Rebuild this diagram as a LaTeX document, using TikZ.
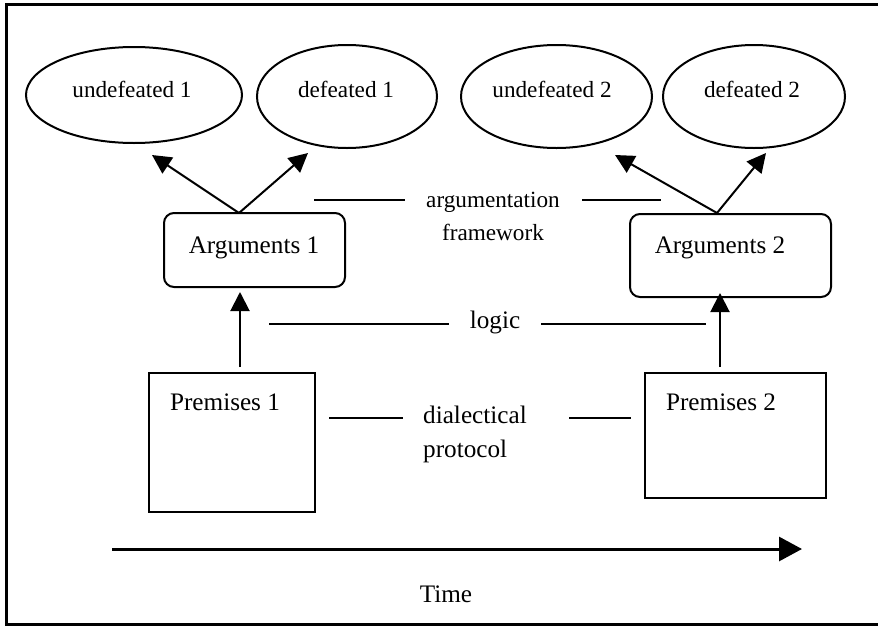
\documentclass[tikz,border=0pt]{standalone}
\usepackage{fontspec}
\setmainfont{Liberation Serif}
\usetikzlibrary{arrows.meta,shapes.geometric}
\begin{document}
\begin{tikzpicture}[x=1pt,y=-1pt,
  ell/.style={draw,ellipse,line width=2pt,inner sep=0pt},
  lbl/.style={inner sep=0pt,font=\fontsize{23.2}{33}\selectfont},
  big/.style={inner sep=0pt,font=\fontsize{25.2}{34}\selectfont},
  argbox/.style={draw,rounded corners=10pt,line width=2pt,inner sep=0pt},
  prembox/.style={draw,line width=2pt,inner sep=0pt},
  conn/.style={line width=2pt,-{Triangle[length=19pt,width=19pt]}},
  rel/.style={line width=1.6pt},
  frame/.style={line width=3pt}
]
\useasboundingbox (0,0) rectangle (878,627);
% frame (right side cut off)
\coordinate (ftr) at (880,4.5);
\coordinate (ftl) at (6,4.5);
\coordinate (fbl) at (6,624.5);
\coordinate (fbr) at (880,624.5);
\draw[frame] (ftr) -- (ftl) -- (fbl) -- (fbr);

% ellipses
\node[ell,minimum width=216,minimum height=96] (u1) at (134,95) {};
\node[ell,minimum width=180,minimum height=103] (d1) at (347,96.5) {};
\node[ell,minimum width=191,minimum height=103] (u2) at (556.5,96.5) {};
\node[ell,minimum width=182,minimum height=103] (d2) at (754,96.5) {};
\node[lbl] (u1t) at (132,89) {undefeated 1};
\node[lbl] (d1t) at (346,89) {defeated 1};
\node[lbl] (u2t) at (552,89) {undefeated 2};
\node[lbl] (d2t) at (752,89) {defeated 2};

% argument boxes
\node[argbox,minimum width=181,minimum height=74] (a1) at (254.5,250) {};
\node[argbox,minimum width=201,minimum height=83] (a2) at (730.5,255.5) {};
\node[big] (a1t) at (254,248) {Arguments 1};
\node[big] (a2t) at (720,248) {Arguments 2};

% premises boxes
\node[prembox,minimum width=166,minimum height=139] (p1) at (232,442.5) {};
\node[prembox,minimum width=181,minimum height=125] (p2) at (735.5,435.5) {};
\node[big] (p1t) at (225,402) {Premises 1};
\node[big] (p2t) at (721,402) {Premises 2};

% arrows from arguments to extensions
\coordinate (a1s) at (239,213);
\coordinate (a2s) at (717,213);
\coordinate (u1e) at (152,155);
\coordinate (d1e) at (308,153);
\coordinate (u2e) at (615,155);
\coordinate (d2e) at (766,153);
\draw[conn] (a1s) -- (u1e);
\draw[conn] (a1s) -- (d1e);
\draw[conn] (a2s) -- (u2e);
\draw[conn] (a2s) -- (d2e);

% logic arrows
\coordinate (p1s) at (240,367);
\coordinate (a1e) at (240,292);
\coordinate (p2s) at (720,367);
\coordinate (a2e) at (720,293);
\draw[conn] (p1s) -- (a1e);
\draw[conn] (p2s) -- (a2e);

% relation labels and lines
\node[lbl,align=center] (af) at (493,216) {argumentation\\framework};
\coordinate (afl1) at (314,200); \coordinate (afl2) at (405,200);
\coordinate (afr1) at (582,200); \coordinate (afr2) at (661,200);
\draw[rel] (afl1) -- (afl2);
\draw[rel] (afr1) -- (afr2);

\node[big] (lg) at (495,322) {logic};
\coordinate (lgl1) at (269,324); \coordinate (lgl2) at (449,324);
\coordinate (lgr1) at (541,324); \coordinate (lgr2) at (706,324);
\draw[rel] (lgl1) -- (lgl2);
\draw[rel] (lgr1) -- (lgr2);

\node[big,align=left,anchor=west] (dp) at (423,434) {dialectical\\protocol};
\coordinate (dpl1) at (329,418); \coordinate (dpl2) at (403,418);
\coordinate (dpr1) at (569,418); \coordinate (dpr2) at (631,418);
\draw[rel] (dpl1) -- (dpl2);
\draw[rel] (dpr1) -- (dpr2);

% time arrow
\coordinate (t1) at (112,549);
\coordinate (t2) at (802,549);
\draw[line width=3pt,-{Triangle[length=23pt,width=24pt]}] (t1) -- (t2);
\node[big] (time) at (446,594) {Time};
\end{tikzpicture}
\end{document}
